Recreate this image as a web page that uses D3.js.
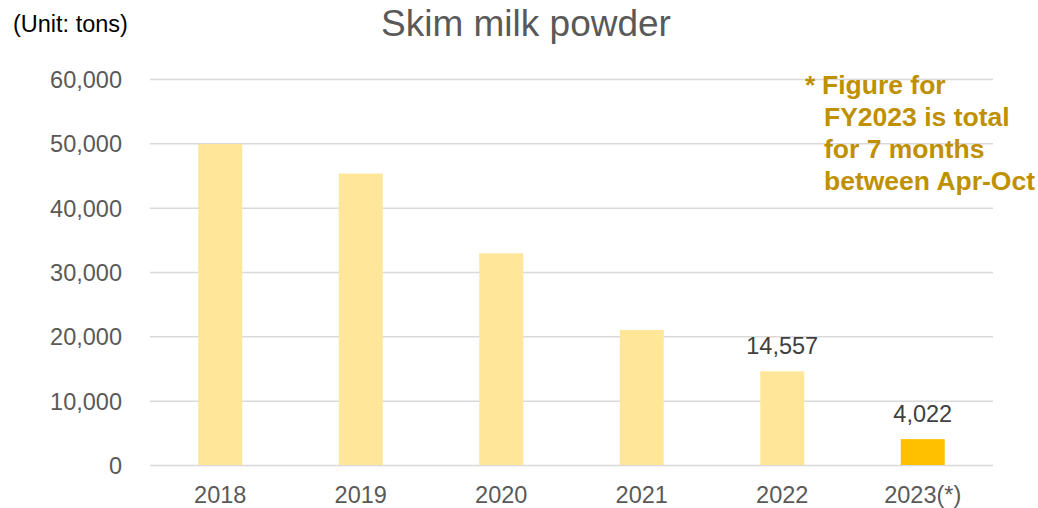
<!DOCTYPE html>
<html>
<head>
<meta charset="utf-8">
<script src="https://cdn.jsdelivr.net/npm/d3@7"></script>
<style>
  body { margin: 0; background: #fff; }
  svg { font-family: Arial, "Liberation Sans", sans-serif; }
</style>
</head>
<body>
<svg id="chart" width="1038" height="508"></svg>
<script>
// data
const years = ["2018", "2019", "2020", "2021", "2022", "2023(*)"];
const tons = [49900, 45300, 32900, 21000, 14557, 4022];
const labelled = ["2022", "2023(*)"];   // only these bars carry a value label
const yTicks = [0, 10000, 20000, 30000, 40000, 50000, 60000];
const noteLines = ["Figure for", "FY2023 is total", "for 7 months", "between Apr-Oct"];

const svg = d3.select("#chart");
const plotLeft = 150, plotRight = 993, plotTop = 79, plotBottom = 465;

// scales
let x = d3.scaleBand()
  .domain(years)
  .range([plotLeft, plotRight])
  .paddingInner(0.687)
  .paddingOuter(0.3435);

let y = d3.scaleLinear()
  .domain([0, 60000])
  .range([plotBottom, plotTop]);

// y axis + gridlines
let yAxis = d3.axisLeft(y)
  .tickValues(yTicks)
  .tickFormat(d3.format(","))
  .tickSize(-(plotRight - plotLeft))
  .tickPadding(28);

let gy = svg.append("g")
  .attr("transform", `translate(${plotLeft},0)`)
  .call(yAxis);
gy.select(".domain").remove();
gy.selectAll(".tick line").attr("stroke", "#d9d9d9").attr("stroke-width", 1.5);
gy.selectAll(".tick text")
  .attr("fill", "#595959")
  .style("font-size", "23.5px")
  .attr("dy", "0.36em");

// x axis
let xAxis = d3.axisBottom(x).tickSize(0).tickPadding(21);
let gx = svg.append("g")
  .attr("transform", `translate(0,${plotBottom})`)
  .call(xAxis);
gx.select(".domain").remove();
gx.selectAll(".tick text")
  .attr("fill", "#595959")
  .style("font-size", "23.5px");

// bars
let rows = years.map((yr, i) => ({ year: yr, value: tons[i] }));

svg.append("g").selectAll("rect")
  .data(rows)
  .enter()
  .append("rect")
  .attr("x", d => x(d.year))
  .attr("width", x.bandwidth())
  .attr("y", d => y(d.value))
  .attr("height", d => y(0) - y(d.value))
  .attr("fill", d => d.year === "2023(*)" ? "#ffc000" : "#ffe699");

// value labels
svg.append("g").selectAll("text")
  .data(rows.filter(d => labelled.includes(d.year)))
  .enter()
  .append("text")
  .attr("x", d => x(d.year) + x.bandwidth() / 2)
  .attr("y", d => y(d.value) - 17)
  .attr("text-anchor", "middle")
  .attr("fill", "#404040")
  .style("font-size", "23.5px")
  .text(d => d3.format(",")(d.value));

// title + unit
svg.append("text")
  .attr("x", 526)
  .attr("y", 36)
  .attr("text-anchor", "middle")
  .attr("fill", "#595959")
  .style("font-size", "37px")
  .text("Skim milk powder");

svg.append("text")
  .attr("x", 13)
  .attr("y", 32)
  .attr("fill", "#000")
  .style("font-size", "23.5px")
  .text("(Unit: tons)");

// footnote
let note = svg.append("text")
  .attr("fill", "#bf9000")
  .style("font-size", "26.5px")
  .style("font-weight", "bold");

note.append("tspan").attr("x", 805).attr("y", 94).text("*");
noteLines.forEach((line, i) => {
  note.append("tspan")
    .attr("x", i === 0 ? 822 : 824)
    .attr("y", 94 + i * 32)
    .text(line);
});
</script>
</body>
</html>
